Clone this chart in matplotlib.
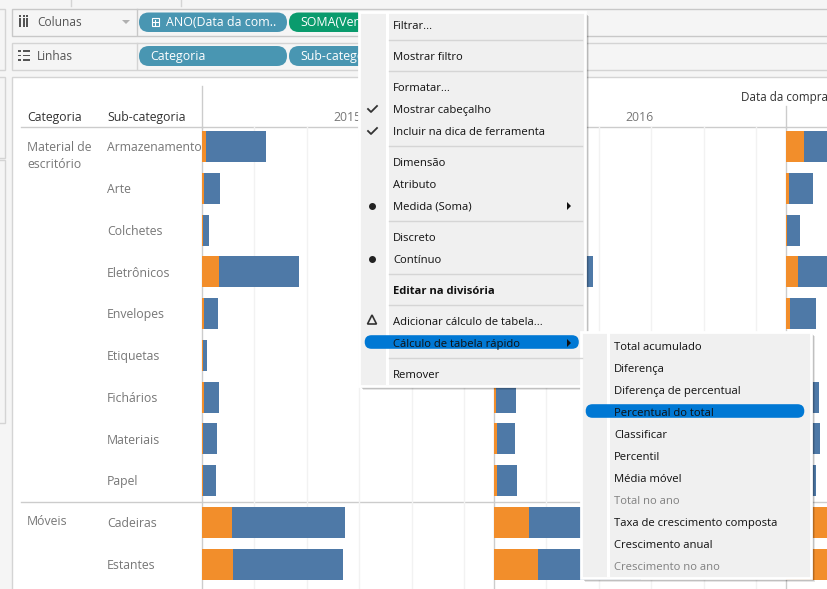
import matplotlib
matplotlib.use('Agg')
import matplotlib.pyplot as plt
from matplotlib.patches import Rectangle, FancyBboxPatch, Polygon

plt.rcParams['font.family'] = ['Open Sans', 'DejaVu Sans']

# vendas e lucro em milhares (1 divisao = 100)
subcategorias = ['Armazenamento', 'Arte', 'Colchetes', 'Eletrônicos', 'Envelopes', 'Etiquetas',
                 'Fichários', 'Materiais', 'Papel', 'Cadeiras', 'Estantes']
lucro_2015 = [8, 4, 1, 33, 4, 1, 4, 2, 1, 57, 59]
vendas_2015 = [122, 34, 13, 185, 30, 9, 32, 29, 27, 273, 269]
lucro_2016 = [9, 4, 1, 35, 4, 1, 4, 6, 6, 67, 84]
vendas_2016 = [130, 36, 15, 189, 32, 10, 42, 40, 44, 290, 280]
lucro_2017 = [34, 6, 2, 23, 8, 2, 10, 8, 8, 90, 95]
vendas_2017 = [140, 52, 27, 190, 57, 14, 63, 65, 57, 300, 290]
anos = [lucro_2015, lucro_2016, lucro_2017]
totais = [vendas_2015, vendas_2016, vendas_2017]
grades = [100, 200, 300, 400, 500]

itens_menu = [('Filtrar...', 25), ('Mostrar filtro', 56), ('Formatar...', 87), ('Mostrar cabeçalho', 109),
              ('Incluir na dica de ferramenta', 131), ('Dimensão', 162), ('Atributo', 184), ('Medida (Soma)', 206),
              ('Discreto', 237), ('Contínuo', 259), ('Adicionar cálculo de tabela...', 321),
              ('Cálculo de tabela rápido', 343), ('Remover', 374)]
itens_sub = [('Total acumulado', 346), ('Diferença', 368), ('Diferença de percentual', 390),
             ('Percentual do total', 412), ('Classificar', 434), ('Percentil', 456), ('Média móvel', 478),
             ('Total no ano', 500), ('Taxa de crescimento composta', 522), ('Crescimento anual', 544),
             ('Crescimento no ano', 566)]
desativados = ['Total no ano', 'Crescimento no ano']

AZUL = '#4e79a7'
LARANJA = '#f28e2b'
W, H = 827, 589

fig = plt.figure(figsize=(W / 100, H / 100), dpi=100, facecolor='#f5f5f5')


def camada(zorder):
    ax = fig.add_axes([0, 0, 1, 1], zorder=zorder)
    ax.set_xlim(0, W)
    ax.set_ylim(H, 0)
    ax.axis('off')
    return ax


def ret(ax, x0, y0, x1, y1, fc='none', ec='none', lw=1):
    ax.add_patch(Rectangle((x0, y0), x1 - x0, y1 - y0, fc=fc, ec=ec, lw=lw))


def pilula(ax, x0, x1, y0, y1, cor):
    r = (y1 - y0) / 2
    ax.add_patch(FancyBboxPatch((x0 + r, y0 + r), x1 - x0 - 2 * r, 0, boxstyle='round,pad=%f' % r,
                                fc=cor, ec='none'))


def txt(ax, x, y, s, size=8.8, cor='#777777', **kw):
    # o centro vertical do matplotlib fica um pouco acima do da captura
    ax.text(x, y + 1.3, s, fontsize=size, color=cor, va='center', **kw)


# fundo da interface
fundo = camada(0)
ret(fundo, -5, 8.5, 4.5, 70, ec='#d4d4d4')
ret(fundo, -5, 77, 4.5, 158, ec='#d4d4d4')
ret(fundo, -5, 160, 4.5, 423, ec='#d4d4d4')
fundo.plot([71, 71], [0, 6], color='#d4d4d4', lw=1)
fundo.plot([180.5, 180.5], [0, 6], color='#d4d4d4', lw=1)
ret(fundo, 11.5, 8.5, 840, 35.5, fc='#f5f5f5', ec='#c8c8c8')
ret(fundo, 11.5, 42.5, 840, 69.5, fc='#f5f5f5', ec='#d4d4d4')
fundo.plot([136.5, 136.5], [9, 35], color='#c8c8c8', lw=1)
fundo.plot([136.5, 136.5], [43, 69], color='#d4d4d4', lw=1)
ret(fundo, 11.5, 76.5, 840, 600, fc='white', ec='#d4d4d4')

for x in (20, 23.5, 27):
    ret(fundo, x - 1, 18, x + 1, 27, fc='#555555')
    ret(fundo, x - 1, 15, x + 1, 16.5, fc='#555555')
for y in (51, 55.5, 60):
    ret(fundo, 18, y - 0.7, 21, y + 0.7, fc='#555555')
    ret(fundo, 22.5, y - 0.7, 30, y + 0.7, fc='#555555')
txt(fundo, 37, 21, 'Colunas', size=8.6, cor='#555555')
txt(fundo, 37, 55, 'Linhas', size=8.6, cor='#555555')
fundo.add_patch(Polygon([[122, 20], [130, 20], [126, 24]], fc='#b0b0b0', ec='none'))

pilula(fundo, 139, 287, 12.5, 32, '#4996b2')
pilula(fundo, 289, 400, 12.5, 32, '#0a9b6d')
pilula(fundo, 139, 287, 46, 66, '#4996b2')
pilula(fundo, 289, 400, 46, 66, '#4996b2')
ret(fundo, 151.5, 18, 159, 26, ec='white', lw=0.8)
fundo.plot([155.2, 155.2], [19.5, 24.5], color='white', lw=0.8)
fundo.plot([153, 157.5], [22, 22], color='white', lw=0.8)
txt(fundo, 166.5, 21, 'ANO(Data da com..', size=8.9, cor='white')
txt(fundo, 300, 21, 'SOMA(Vendas)', size=8.9, cor='white')
txt(fundo, 150, 55, 'Categoria', size=8.9, cor='white')
txt(fundo, 300, 55, 'Sub-categoria', size=8.9, cor='white')

# cabecalhos da tabela
txt(fundo, 27, 116.5, 'Categoria', cor='#333333')
txt(fundo, 107, 116.5, 'Sub-categoria', cor='#333333')
txt(fundo, 741, 96.5, 'Data da compra', size=8.4, cor='#333333')
txt(fundo, 333, 116.5, '2015')
txt(fundo, 625, 116.5, '2016')
txt(fundo, 27, 146, 'Material de')
txt(fundo, 27, 163, 'escritório')
txt(fundo, 27, 520, 'Móveis')

# barras: cada ano e um painel com a mesma escala
paineis = [202, 494, 786]
y_topo = 127
altura_linha = 41.75
for n, x0 in enumerate(paineis):
    x1 = paineis[n + 1] if n < 2 else W
    ax = fig.add_axes([x0 / W, 0, (x1 - x0) / W, 1 - y_topo / H], zorder=1)
    ax.patch.set_alpha(0)
    ax.set_xlim(0, (x1 - x0) / 0.524)
    ax.set_ylim(H - y_topo, 0)
    for s in ax.spines.values():
        s.set_visible(False)
    ax.set_xticks([])
    ax.set_yticks([])
    for g in grades:
        ax.axvline(g, color='#f2f2f2', lw=1, zorder=0)
    centros = [19.5 + i * altura_linha for i in range(len(subcategorias))]
    restante = [t - l for t, l in zip(totais[n], anos[n])]
    ax.barh(centros, anos[n], height=31, color=LARANJA, zorder=2)
    ax.barh(centros, restante, left=anos[n], height=31, color=AZUL, zorder=2)
    fundo.plot([x0 - 0.5, x0 - 0.5], [127, H], color='#cccccc', lw=1)
    if n == 0:
        for c, nome in zip(centros, subcategorias):
            txt(fundo, 107, y_topo + c, nome)

fundo.plot([21, W], [126.5, 126.5], color='#cccccc', lw=1)
fundo.plot([21, W], [501.5, 501.5], color='#cccccc', lw=1)
fundo.plot([201.5, 201.5], [86, 127], color='#cccccc', lw=1)
fundo.plot([785.5, 785.5], [106, 127], color='#cccccc', lw=1)

# menus de contexto
menu = camada(2)


def caixa_menu(x0, y0, x1, y1, x_div):
    for d, a in ((4, 0.10), (3, 0.16), (2, 0.24), (1, 0.34)):
        ret(menu, x0 + d, y0 + d, x1 + d, y1 + d, fc=(0, 0, 0, a))
    ret(menu, x0, y0, x1, y1, fc='#f0f0f0', ec='white', lw=2)
    ret(menu, x_div, y0 + 1, x_div + 3, y1 - 1, fc='white')


caixa_menu(359, 12, 585, 386, 386)
caixa_menu(580.5, 332, 811, 578, 607)

for y in (39.5, 70.5, 145.5, 220.5, 273.5, 304.5, 357.5):
    menu.plot([389, 582], [y, y], color='#d5d5d5', lw=1)
menu.add_patch(FancyBboxPatch((371.5, 342), 200.5, 0, boxstyle='round,pad=6.8', fc='#0078d4', ec='none'))
menu.add_patch(FancyBboxPatch((592.5, 411), 205, 0, boxstyle='round,pad=6.8', fc='#0078d4', ec='none'))

for texto, y in itens_menu:
    txt(menu, 393, y, texto, size=8.1, cor='#111111')
txt(menu, 393, 290, 'Editar na divisória', size=8.1, cor='#111111', fontweight='bold')
for texto, y in itens_sub:
    cor = '#808080' if texto in desativados else '#111111'
    txt(menu, 614, y, texto, size=8.1, cor=cor)

for y in (109, 131):
    menu.plot([368, 371, 377], [y, y + 3, y - 3], color='#333333', lw=1.3)
for y in (206, 259):
    menu.plot([372], [y], marker='o', ms=4, color='#222222')
menu.add_patch(Polygon([[372, 315], [376.5, 324], [367.5, 324]], fc='none', ec='#333333', lw=1.2))
for y in (206, 343):
    menu.add_patch(Polygon([[567, y - 4], [571, y], [567, y + 4]], fc='#111111', ec='none'))

fig.savefig('out.png', dpi=100, facecolor=fig.get_facecolor())
